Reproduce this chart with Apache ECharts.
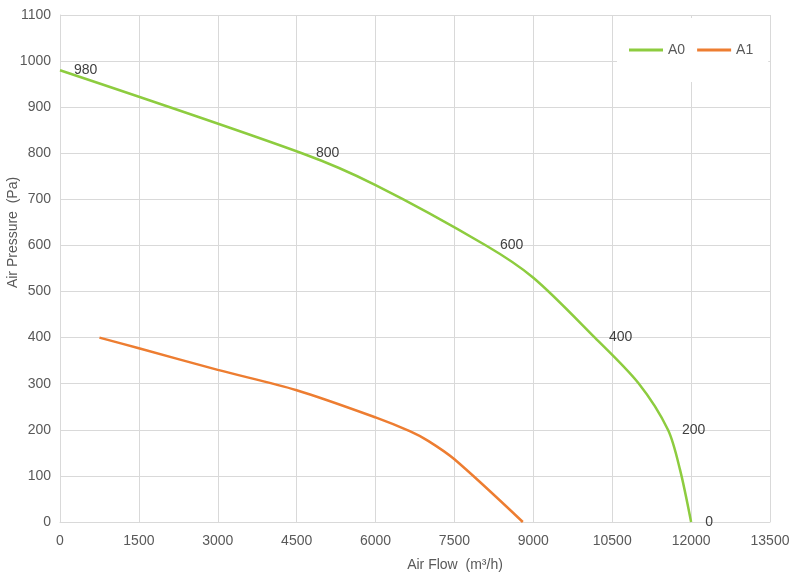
<!DOCTYPE html>
<html>
<head>
<meta charset="utf-8">
<script src="https://cdn.jsdelivr.net/npm/echarts@6/dist/echarts.min.js"></script>
<style>html,body{margin:0;padding:0;background:#fff;}#c{width:794px;height:579px;}</style>
</head>
<body>
<div id="c"></div>
<script>
const seriesNames = ['A0', 'A1'];
const a0Flow = [0, 4600, 6000, 8100, 9000, 10170, 11000, 11560, 11790, 12000];
const a0Pressure = [980, 800, 731, 600, 530, 400, 301, 200, 113, 0];
const a0Labeled = [true, true, false, true, false, true, false, true, false, true];
const a1Flow = [750, 1500, 3000, 4500, 6000, 6650, 7000, 7500, 8800];
const a1Pressure = [400, 377, 330, 286, 227, 197, 176, 136, 0];
const xTicks = { min: 0, max: 13500, interval: 1500 };
const yTicks = { min: 0, max: 1100, interval: 100 };
const xName = 'Air Flow  (m³/h)';
const yName = 'Air Pressure  (Pa)';

const font = '"Liberation Sans", Arial, Helvetica, sans-serif';
const green = '#8dcc3f';
const orange = '#ed7d31';
const zip = (xs, ys) => xs.map((x, i) => [x, ys[i]]);

const a0Data = a0Flow.map((x, i) => ({
  value: [x, a0Pressure[i]],
  label: { show: a0Labeled[i] }
}));

const chart = echarts.init(document.getElementById('c'), null, { renderer: 'canvas' });
chart.setOption({
  animation: false,
  backgroundColor: '#fff',
  textStyle: { fontFamily: font },
  grid: { left: 60, right: 24, top: 15, bottom: 57, containLabel: false, outerBoundsMode: 'none' },
  legend: {
    data: seriesNames,
    left: 617, top: 18,
    padding: [25, 15, 25, 12],
    backgroundColor: '#fff',
    icon: 'rect',
    itemWidth: 34, itemHeight: 3,
    itemGap: 12,
    textStyle: { color: '#595959', fontSize: 14, fontFamily: font }
  },
  xAxis: {
    type: 'value',
    min: xTicks.min, max: xTicks.max, interval: xTicks.interval,
    name: xName, nameLocation: 'middle', nameGap: 43, nameMoveOverlap: false,
    nameTextStyle: { color: '#595959', fontSize: 14, fontFamily: font, padding: [0, 0, 0, 80], verticalAlign: 'middle' },
    axisLine: { show: true, lineStyle: { color: '#d9d9d9', width: 1 } },
    axisTick: { show: false },
    axisLabel: { color: '#595959', fontSize: 14, fontFamily: font, margin: 12, formatter: v => String(v) },
    splitLine: { show: true, lineStyle: { color: '#d9d9d9', width: 1 } }
  },
  yAxis: {
    type: 'value',
    min: yTicks.min, max: yTicks.max, interval: yTicks.interval,
    name: yName, nameLocation: 'middle', nameGap: 47, nameRotate: 90, nameMoveOverlap: false,
    nameTextStyle: { color: '#595959', fontSize: 14, fontFamily: font, padding: [0, 0, 0, 72], verticalAlign: 'middle' },
    axisLine: { show: true, lineStyle: { color: '#d9d9d9', width: 1 } },
    axisTick: { show: false },
    axisLabel: { color: '#595959', fontSize: 14, fontFamily: font, margin: 9, formatter: v => String(v) },
    splitLine: { show: true, lineStyle: { color: '#d9d9d9', width: 1 } }
  },
  series: [
    {
      name: seriesNames[0], type: 'line', smooth: 0.3,
      data: a0Data,
      symbol: 'circle', symbolSize: 0.1, showSymbol: true,
      itemStyle: { color: green },
      lineStyle: { color: green, width: 2.5 },
      label: { position: 'right', distance: 14, color: '#404040', fontSize: 14, fontFamily: font,
        formatter: p => String(p.value[1]) },
      z: 3
    },
    {
      name: seriesNames[1], type: 'line', smooth: 0.3,
      data: zip(a1Flow, a1Pressure),
      symbol: 'none',
      itemStyle: { color: orange },
      lineStyle: { color: orange, width: 2.5 },
      z: 2
    }
  ]
});
</script>
</body>
</html>
